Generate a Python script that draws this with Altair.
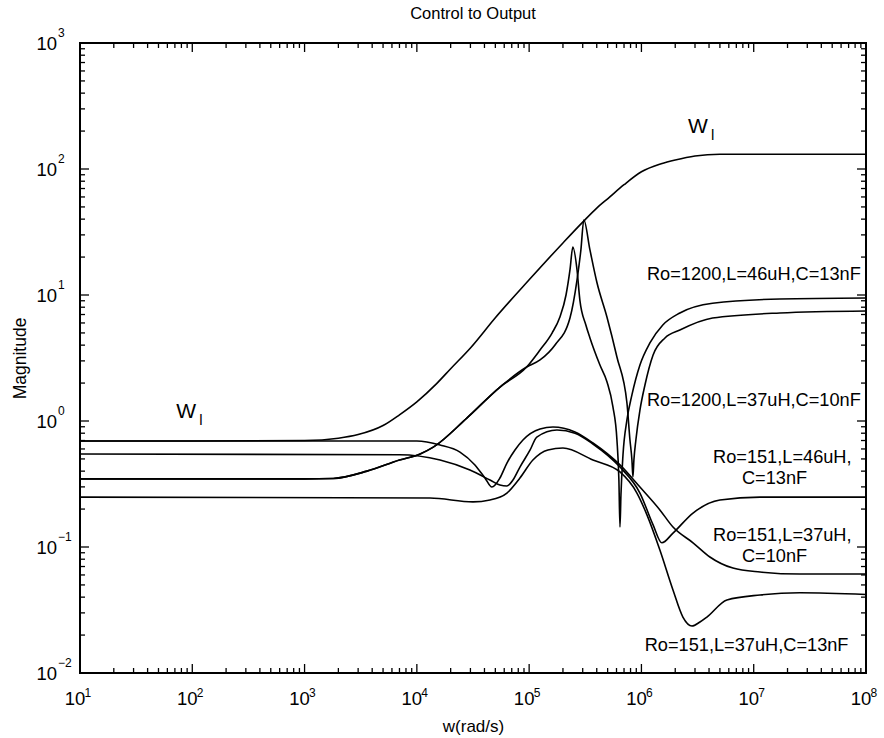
import altair as alt
import pandas as pd

FONT = "Liberation Sans"

# ---------------- curve data ----------------
wl_w = [1e1, 1e2, 1e3, 2e3, 3e3, 5e3, 7e3, 1e4, 1.5e4, 2e4, 3e4, 5e4, 1e5, 2e5, 3e5,
        4e5, 5e5, 7e5, 1e6, 1.5e6, 2e6, 3e6, 5e6, 1e7, 1e8]
wl_m = [0.694, 0.694, 0.70, 0.73, 0.78, 0.92, 1.12, 1.42, 1.98, 2.6, 3.8, 6.6, 13.2, 25.9, 37.9,
        49, 58, 75, 95, 110, 118, 127, 131, 131, 131]

# Ro=1200 curves share the low-frequency part
r1200_w = [1e1, 1e3, 1.8e3, 3.6e3, 7e3, 1.07e4, 1.4e4, 2.8e4, 5.5e4, 9.5e4]
r1200_m = [0.347, 0.347, 0.35, 0.40, 0.49, 0.547, 0.62, 1.06, 1.86, 2.68]

b_w = [1.25e5, 1.6e5, 1.88e5, 2.13e5, 2.31e5, 2.45e5, 2.67e5, 2.83e5, 3.2e5, 3.48e5, 4.27e5,
       4.93e5, 5.57e5, 6.05e5, 6.3e5, 6.44e5, 6.57e5, 6.85e5, 7.43e5, 8.23e5, 9.7e5, 1.19e6,
       1.55e6, 2.2e6, 4.3e6, 1.71e7, 1e8]
b_m = [3.66, 4.99, 6.69, 10.0, 15.8, 24.0, 15.8, 9.12, 5.78, 4.56, 2.78,
       2.05, 1.3, 0.71, 0.34, 0.144, 0.259, 0.537, 1.02, 1.61, 2.78, 4.16,
       5.78, 7.2, 8.6, 9.3, 9.47]

c_w = [1.25e5, 1.7e5, 2.31e5, 2.67e5, 2.89e5, 3.07e5, 3.48e5, 4.02e5, 4.93e5, 6.05e5, 7.43e5,
       7.9e5, 8.23e5, 8.4e5, 8.57e5, 8.93e5, 9.7e5, 1.075e6, 1.27e6, 1.62e6, 2.2e6, 4.3e6,
       1.71e7, 1e8]
c_m = [3.05, 4.01, 6.57, 13.2, 22.8, 39.4, 22.8, 12.5, 6.69, 3.22, 1.39,
       0.71, 0.49, 0.36, 0.49, 0.71, 1.22, 1.93, 3.34, 4.56, 5.28, 6.57,
       7.2, 7.46]

e_w = [1e1, 1e4, 1.61e4, 2.42e4, 3.29e4, 4.04e4, 4.66e4, 5.49e4, 6.34e4, 7.48e4, 8.81e4,
       1.25e5, 1.63e5, 2.56e5, 3.7e5, 6.44e5, 9.7e5, 1.46e6, 1.91e6, 2.88e6, 4.07e6, 6.53e6,
       1.14e7, 2.58e7, 1e8]
e_m = [0.694, 0.694, 0.645, 0.567, 0.448, 0.353, 0.299, 0.353, 0.464, 0.589, 0.707,
       0.864, 0.896, 0.818, 0.669, 0.448, 0.299, 0.197, 0.144, 0.108, 0.0833, 0.068,
       0.0633, 0.061, 0.061]

d_w = [1e1, 7e3, 1.61e4, 2.97e4, 4.48e4, 5.49e4, 6.34e4, 7.18e4, 8.28e4, 1.02e5, 1.17e5,
       1.77e5, 2.56e5, 3.7e5, 6.44e5, 9.7e5, 1.27e6, 1.52e6, 1.91e6, 2.88e6, 5.0e6, 1.14e7, 1e8]
d_m = [0.547, 0.54, 0.49, 0.408, 0.34, 0.31, 0.305, 0.34, 0.431, 0.589, 0.746,
       0.849, 0.80, 0.657, 0.431, 0.268, 0.15, 0.108, 0.129, 0.186, 0.236, 0.249, 0.249]

f_w = [1e1, 1.31e4, 3.16e4, 4.48e4, 6.34e4, 8.28e4, 1.08e5, 1.47e5, 2.0e5, 3.7e5, 6.44e5,
       9.12e5, 1.12e6, 1.46e6, 1.91e6, 2.34e6, 2.82e6, 3.32e6, 3.83e6, 5.77e6, 1.14e7, 2.58e7, 1e8]
f_m = [0.249, 0.245, 0.228, 0.236, 0.268, 0.353, 0.49, 0.589, 0.61, 0.49, 0.394,
       0.268, 0.18, 0.0947, 0.0456, 0.0278, 0.0236, 0.0254, 0.0278, 0.038, 0.0416, 0.0433, 0.042]

curves = {
    "W_l": (wl_w, wl_m),
    "Ro=1200,L=46uH,C=13nF": (r1200_w + b_w, r1200_m + b_m),
    "Ro=1200,L=37uH,C=10nF": (r1200_w + c_w, r1200_m + c_m),
    "Ro=151,L=37uH,C=10nF": (e_w, e_m),
    "Ro=151,L=46uH,C=13nF": (d_w, d_m),
    "Ro=151,L=37uH,C=13nF": (f_w, f_m),
}
rows = []
for name, (ws, ms) in curves.items():
    for i, (w, m) in enumerate(zip(ws, ms)):
        rows.append({"curve": name, "w": w, "mag": m, "i": i})
df = pd.DataFrame(rows)

# ---------------- axes ticks / labels ----------------
x_major = [1e1, 1e2, 1e3, 1e4, 1e5, 1e6, 1e7, 1e8]
x_exp = ["1", "2", "3", "4", "5", "6", "7", "8"]
x_minor = [m * 10 ** k for k in range(1, 8) for m in range(2, 10)]
y_major = [1e-2, 1e-1, 1e0, 1e1, 1e2, 1e3]
y_exp = ["\u22122", "\u22121", "0", "1", "2", "3"]
y_minor = [m * 10.0 ** k for k in range(-2, 3) for m in range(2, 10)]

# annotations
ann_text = ["Ro=1200,L=46uH,C=13nF", "Ro=1200,L=37uH,C=10nF", "Ro=151,L=46uH,", "C=13nF",
            "Ro=151,L=37uH,", "C=10nF", "Ro=151,L=37uH,C=13nF"]
ann_w = [1.12e6, 1.12e6, 4.34e6, 7.85e6, 4.34e6, 7.85e6, 1.07e6]
ann_m = [13.2, 1.32, 0.464, 0.316, 0.1116, 0.076, 0.01496]
wlab_w = [2.6e6, 72]
wlab_m = [193, 1.06]
title_text = ["Control to Output"]

W, H = 786, 630
xs = alt.Scale(type="log", domain=[10, 1e8], nice=False)
ys = alt.Scale(type="log", domain=[0.01, 1000], nice=False)
x_axis = alt.Axis(title="w(rad/s)", labels=False, ticks=False, domain=False, grid=False,
                  titleFont=FONT, titleFontSize=17, titleFontWeight="normal", titleColor="black",
                  titleY=58, titleBaseline="alphabetic")
y_axis = alt.Axis(title="Magnitude", labels=False, ticks=False, domain=False, grid=False,
                  titleFont=FONT, titleFontSize=17.5, titleFontWeight="normal", titleColor="black",
                  titleX=-60, titleY=H / 2, titleAngle=-90, titleAlign="center",
                  titleBaseline="middle")


def X(field="w"):
    return alt.X(f"{field}:Q", scale=xs, axis=x_axis)


def Y(field="mag"):
    return alt.Y(f"{field}:Q", scale=ys, axis=y_axis)


lines = alt.Chart(df).mark_line(color="black", strokeWidth=1.6, interpolate="monotone").encode(
    x=X(), y=Y(), detail="curve:N", order="i:Q")

dxmaj = pd.DataFrame({"w": x_major, "exp": x_exp})
dxmin = pd.DataFrame({"w": x_minor})
dymaj = pd.DataFrame({"mag": y_major, "exp": y_exp})
dymin = pd.DataFrame({"mag": y_minor})

TK = dict(color="black", strokeWidth=1.3)
MAJ, MIN = 9, 5
ticks = []
for d, ln in ((dxmaj, MAJ), (dxmin, MIN)):
    ticks.append(alt.Chart(d).mark_rule(**TK).encode(x=X(), y=alt.value(H), y2=alt.value(H - ln)))
    ticks.append(alt.Chart(d).mark_rule(**TK).encode(x=X(), y=alt.value(0), y2=alt.value(ln)))
for d, ln in ((dymaj, MAJ), (dymin, MIN)):
    ticks.append(alt.Chart(d).mark_rule(**TK).encode(y=Y(), x=alt.value(0), x2=alt.value(ln)))
    ticks.append(alt.Chart(d).mark_rule(**TK).encode(y=Y(), x=alt.value(W), x2=alt.value(W - ln)))

LBL = dict(font=FONT, color="black", baseline="alphabetic", fontWeight="normal")
xl_base = alt.Chart(dxmaj).mark_text(text="10", align="center", dx=-5, fontSize=18.5, **LBL).encode(
    x=X(), y=alt.value(H + 32))
xl_exp = alt.Chart(dxmaj).mark_text(align="left", dx=4.5, fontSize=12, **LBL).encode(
    x=X(), y=alt.value(H + 24), text="exp:N")
yl_base = alt.Chart(dymaj).mark_text(text="10", align="right", dy=7, fontSize=18.5, **LBL).encode(
    y=Y(), x=alt.value(-23))
yl_exp = alt.Chart(dymaj).mark_text(align="left", dy=-6, fontSize=12, **LBL).encode(
    y=Y(), x=alt.value(-22), text="exp:N")

dann = pd.DataFrame({"t": ann_text, "w": ann_w, "mag": ann_m})
ann = alt.Chart(dann).mark_text(align="left", fontSize=18.2, **LBL).encode(x=X(), y=Y(), text="t:N")

dwl = pd.DataFrame({"w": wlab_w, "mag": wlab_m})
wl_big = alt.Chart(dwl).mark_text(text="W", align="left", fontSize=21, **LBL).encode(x=X(), y=Y())
wl_sub = alt.Chart(dwl).mark_text(text="l", align="left", dx=23, dy=7, fontSize=15, **LBL).encode(
    x=X(), y=Y())

dtitle = pd.DataFrame({"t": title_text})
title = alt.Chart(dtitle).mark_text(align="center", fontSize=16.5, **LBL).encode(
    x=alt.value(W / 2), y=alt.value(-24), text="t:N")

chart = alt.layer(lines, *ticks, xl_base, xl_exp, yl_base, yl_exp, ann, wl_big, wl_sub, title).properties(
    width=W, height=H,
    padding={"left": 80, "top": 43, "right": 18, "bottom": 65},
    autosize=alt.AutoSizeParams(type="none"),
    background="white",
).configure_view(stroke="black", strokeWidth=2)

chart.save("out.html", embed_options={"renderer": "svg", "actions": False})
